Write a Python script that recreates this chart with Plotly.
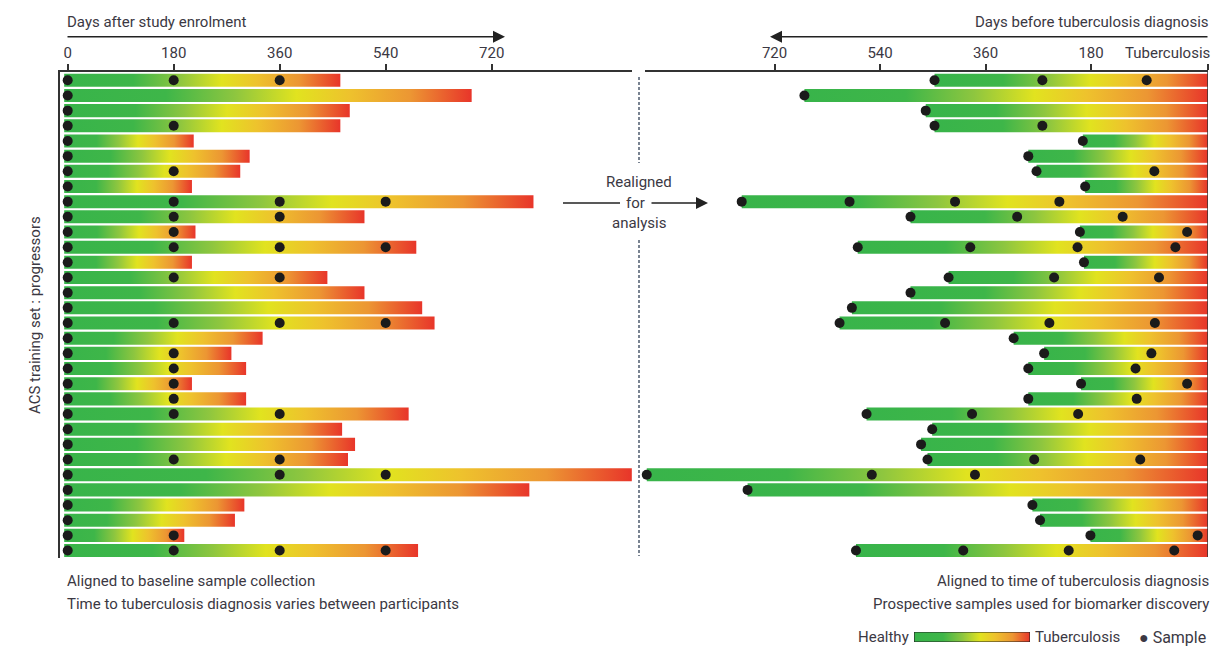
import plotly.graph_objects as go

W, H = 1224, 646

# ---------------- data ----------------
rows = list(range(1, 33))

# Left panel: days after study enrolment at which TB was diagnosed (bar end)
left_end = [463, 686, 479, 463, 214, 309, 293, 211, 791, 504, 217, 592, 211, 441, 504, 602,
            623, 331, 278, 303, 211, 303, 579, 466, 488, 476, 958, 784, 300, 284, 198, 595]

# Left panel: sample days after enrolment
left_samples = [
    [0, 180, 360], [0], [0], [0, 180], [0], [0], [0, 180], [0],
    [0, 180, 360, 540], [0, 180, 360], [0, 180], [0, 180, 360, 540], [0], [0, 180, 360], [0], [0],
    [0, 180, 360, 540], [0], [0, 180], [0, 180], [0, 180], [0, 180], [0, 180, 360], [0],
    [0], [0, 180, 360], [0, 360, 540], [0], [0], [0], [0, 180], [0, 180, 360, 540],
]

# Right panel: first sample, days before tuberculosis diagnosis (bar start)
right_start = [447, 669, 462, 447, 194, 287, 273, 190, 776, 488, 199, 578, 192, 423, 488, 588,
               609, 312, 260, 287, 197, 287, 563, 451, 470, 459, 938, 766, 280, 267, 181, 581]

# Right panel: later samples, days before tuberculosis diagnosis
right_samples = [
    [263, 85], [], [], [263], [], [], [72], [],
    [592, 412, 234], [306, 126], [16], [386, 203, 36], [], [243, 64], [], [],
    [429, 251, 71], [], [77], [104], [16], [102], [383, 202], [],
    [], [277, 96], [554, 378], [], [], [], [-2], [398, 218, 38],
]

left_ticks = [0, 180, 360, 540, 720]
right_ticks = [720, 540, 360, 180]
right_ticktext = ["720", "540", "360", "180"]

# ---------------- styling / layout constants ----------------
TB_POS = -19.6          # axis position of the diagnosis edge on the right panel
LEFT_PAD = -6           # bars start just left of the baseline dot
BAR_H = 0.86
TEXT = "#3b3843"
LINE = "#333333"
DOT = "#1b1b1b"
FONT = "Roboto, 'Noto Sans', sans-serif"

CS = [[0.0, "#38b44a"], [0.25, "#3eb649"], [0.42, "#8ec63f"], [0.57, "#e1e31f"],
      [0.70, "#eec22d"], [0.85, "#ec9633"], [1.0, "#e8352a"]]


def fx(p):
    return p / W


def fy(p):
    return 1 - p / H


fig = go.Figure()

# Left panel bars
for r, end in zip(rows, left_end):
    x0, x1 = LEFT_PAD, end
    y0, y1 = r - BAR_H / 2, r + BAR_H / 2
    fig.add_trace(go.Scatter(
        x=[x0, x1, x1, x0, x0], y=[y0, y0, y1, y1, y0], mode="lines",
        line=dict(width=0), fill="toself",
        fillgradient=dict(type="horizontal", colorscale=CS, start=x0, stop=x1),
        hoverinfo="skip", showlegend=False, xaxis="x", yaxis="y"))

# Right panel bars
for r, st in zip(rows, right_start):
    x0, x1 = st, TB_POS
    y0, y1 = r - BAR_H / 2, r + BAR_H / 2
    fig.add_trace(go.Scatter(
        x=[x0, x1, x1, x0, x0], y=[y0, y0, y1, y1, y0], mode="lines",
        line=dict(width=0), fill="toself",
        fillgradient=dict(type="horizontal", colorscale=CS, start=x0, stop=x1),
        hoverinfo="skip", showlegend=False, xaxis="x2", yaxis="y"))

# Sample dots
lx, ly = [], []
for r, s in zip(rows, left_samples):
    for d in s:
        lx.append(d)
        ly.append(r)
fig.add_trace(go.Scatter(x=lx, y=ly, mode="markers", marker=dict(size=10, color=DOT),
                         cliponaxis=False, hoverinfo="skip", showlegend=False,
                         xaxis="x", yaxis="y"))
rx, ry = [], []
for r, st, s in zip(rows, right_start, right_samples):
    for d in [st] + s:
        rx.append(d)
        ry.append(r)
fig.add_trace(go.Scatter(x=rx, y=ry, mode="markers", marker=dict(size=10, color=DOT),
                         cliponaxis=False, hoverinfo="skip", showlegend=False,
                         xaxis="x2", yaxis="y"))

# Legend gradient box
fig.add_trace(go.Scatter(
    x=[0, 1, 1, 0, 0], y=[0, 0, 1, 1, 0], mode="lines",
    line=dict(width=1.2, color="#222222"), fill="toself",
    fillgradient=dict(type="horizontal", colorscale=CS, start=0, stop=1),
    hoverinfo="skip", showlegend=False, xaxis="x3", yaxis="y3"))

axis_common = dict(
    side="top", anchor="y", ticks="outside", ticklen=6, tickwidth=1.5, tickcolor=LINE,
    showline=True, linecolor=LINE, linewidth=1.5, showgrid=False, zeroline=False,
    tickfont=dict(family=FONT, size=15, color=TEXT), fixedrange=True,
)

fig.update_layout(
    width=W, height=H, autosize=False,
    margin=dict(l=0, r=0, t=0, b=0),
    paper_bgcolor="white", plot_bgcolor="rgba(0,0,0,0)",
    font=dict(family=FONT, size=15, color=TEXT),
    showlegend=False,
    xaxis=dict(domain=[fx(60), fx(632)], range=[-13.08, 958.3],
               tickvals=left_ticks, **axis_common),
    xaxis2=dict(domain=[fx(645), fx(1208)], range=[941.0, TB_POS],
                tickvals=right_ticks + [TB_POS], ticktext=right_ticktext + [""],
                **axis_common),
    yaxis=dict(domain=[fy(558), fy(71.7)], range=[32.49, 0.433],
               showticklabels=False, ticks="", showgrid=False, zeroline=False,
               showline=True, linecolor=LINE, linewidth=1.5, fixedrange=True),
    xaxis3=dict(domain=[fx(914), fx(1030)], range=[0, 1], visible=False, anchor="y3",
                fixedrange=True),
    yaxis3=dict(domain=[fy(642), fy(632)], range=[0, 1], visible=False, anchor="x3",
                fixedrange=True),
)

# Shapes: dashed divider, right edge line, middle arrow left segment
shapes = [
    dict(type="line", xref="paper", yref="paper", x0=fx(639), x1=fx(639), y0=fy(77), y1=fy(163),
         line=dict(color="#4d5b6e", width=1.5, dash="3px,2px")),
    dict(type="line", xref="paper", yref="paper", x0=fx(639), x1=fx(639), y0=fy(240), y1=fy(556),
         line=dict(color="#4d5b6e", width=1.5, dash="3px,2px")),
    dict(type="line", xref="x2", yref="paper", x0=TB_POS, x1=TB_POS, y0=fy(71.7), y1=fy(557),
         line=dict(color=LINE, width=1.5)),
    dict(type="line", xref="paper", yref="paper", x0=fx(563), x1=fx(620), y0=fy(203), y1=fy(203),
         line=dict(color="#222222", width=1.5)),
]
fig.update_layout(shapes=shapes)

ann = []


def txt(text, x, y, xanchor="left", size=15, **kw):
    ann.append(dict(text=text, x=fx(x), y=fy(y), xref="paper", yref="paper",
                    xanchor=xanchor, yanchor="middle", showarrow=False,
                    font=dict(family=FONT, size=size, color=TEXT), **kw))


def arrow(hx, hy, tx, ty):
    ann.append(dict(text="", x=fx(hx), y=fy(hy), xref="paper", yref="paper",
                    ax=tx - hx, ay=ty - hy, axref="pixel", ayref="pixel",
                    showarrow=True, arrowhead=2, arrowsize=1.5, arrowwidth=1.6,
                    arrowcolor="#222222"))


txt("Days after study enrolment", 65, 22)
arrow(505, 36.7, 66, 36.7)
txt("Days before tuberculosis diagnosis", 1211, 22, xanchor="right")
arrow(770, 36.7, 1209, 36.7)
txt("Tuberculosis", 1212, 53, xanchor="right")

txt("Realigned", 639, 182, xanchor="center")
txt("for", 635, 203, xanchor="center")
txt("analysis", 639, 223, xanchor="center")
arrow(708, 203, 650, 203)

txt("ACS training set : progressors", 35, 315, xanchor="center", textangle=-90)

txt("Aligned to baseline sample collection", 65, 581)
txt("Time to tuberculosis diagnosis varies between participants", 65, 604)
txt("Aligned to time of tuberculosis diagnosis", 1211, 581, xanchor="right")
txt("Prospective samples used for biomarker discovery", 1211, 604, xanchor="right")

txt("Healthy", 911, 637, xanchor="right")
txt("Tuberculosis", 1033, 637)
txt("\u25cf Sample", 1137, 637, size=16)

fig.update_layout(annotations=ann)

fig.write_html("out.html", config={"displayModeBar": False},
               post_script="document.body.style.margin='0';document.body.style.overflow='hidden';")
